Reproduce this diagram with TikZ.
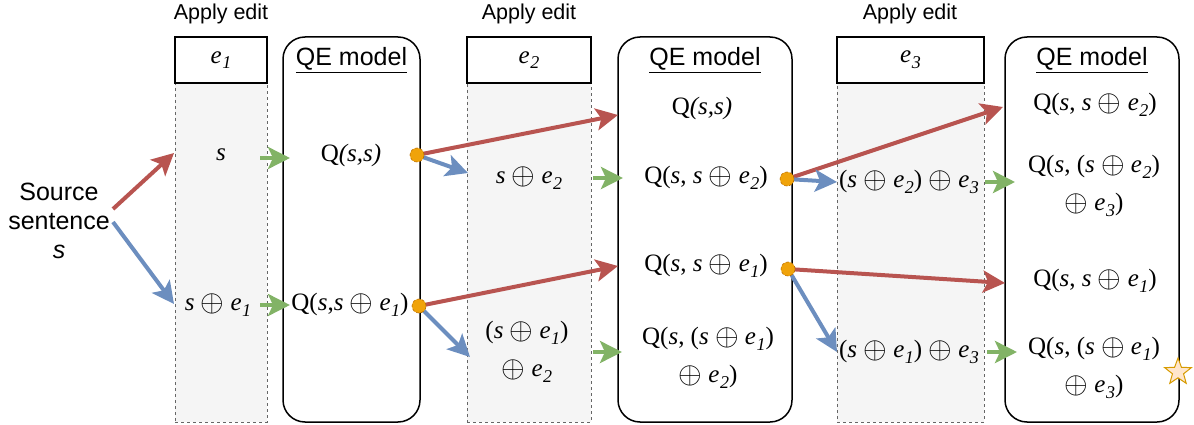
\documentclass[tikz,border=0pt]{standalone}
\usepackage{fontspec}
\setmainfont{Liberation Serif}
\setsansfont{Liberation Sans}
\usetikzlibrary{arrows.meta,shapes.geometric}
\definecolor{cred}{HTML}{B85450}
\definecolor{cblue}{HTML}{6C8EBF}
\definecolor{cgreen}{HTML}{82B366}
\definecolor{corange}{HTML}{F0A30A}
\definecolor{corangeline}{HTML}{BD7000}
\definecolor{colfill}{HTML}{F5F5F5}
\definecolor{colline}{HTML}{666666}
\definecolor{starfill}{HTML}{FFE6CC}
\definecolor{starline}{HTML}{D79B00}
\newcommand{\ee}[1]{\textit{e}\kern0.5pt\raisebox{-0.5ex}{\fontsize{18}{18}\selectfont\textit{#1}}}
\newcommand{\vs}{\textit{s}}
\newcommand{\op}{\raisebox{-0.3pt}{\scalebox{1.22}{$\oplus$}}}
\begin{document}
\begin{tikzpicture}[x=1pt,y=-1pt,
  every node/.style={inner sep=0pt, outer sep=0pt},
  serif/.style={font=\fontsize{25}{38}\selectfont, align=center},
  sanslbl/.style={font=\sffamily\fontsize{21.5}{25}\selectfont},
  srclbl/.style={font=\sffamily\fontsize{25}{29}\selectfont, align=center},
  qetitle/.style={font=\sffamily\fontsize{25}{28}\selectfont},
  colbox/.style={draw=colline, dashed, fill=colfill, line width=0.8pt},
  ebox/.style={draw=black, fill=white, line width=1.5pt},
  qebox/.style={draw=black, rounded corners=22pt, line width=1.5pt},
  arr/.style={line width=4pt, -{Stealth[length=22pt,width=22pt,inset=5pt]}},
  redarr/.style={arr, color=cred},
  bluearr/.style={arr, color=cblue},
  greenarr/.style={arr, color=cgreen},
  dot/.style={circle, minimum size=14pt, fill=corange, draw=corangeline, densely dashed, line width=0.6pt}
]
\useasboundingbox (0,0) rectangle (1194,425);

% columns
\node[colbox, minimum width=92pt, minimum height=339pt] (c1) at (221,252.5) {};
\node[colbox, minimum width=124pt, minimum height=339pt] (c2) at (529,252.5) {};
\node[colbox, minimum width=147pt, minimum height=339pt] (c3) at (910.5,252.5) {};
\node[ebox, minimum width=92pt, minimum height=46pt, serif] (e1) at (221,60) {\ee{1}};
\node[ebox, minimum width=124pt, minimum height=46pt, serif] (e2) at (529,60) {\ee{2}};
\node[ebox, minimum width=147pt, minimum height=46pt, serif] (e3) at (910.5,60) {\ee{3}};

% QE model boxes
\node[qebox, minimum width=137pt, minimum height=385pt] (qe1) at (351.5,229.5) {};
\node[qebox, minimum width=174pt, minimum height=385pt] (qe2) at (705,229.5) {};
\node[qebox, minimum width=174pt, minimum height=385pt] (qe3) at (1092,229.5) {};
\node[qetitle] (qt1) at (351.5,60) {\underline{QE model}};
\node[qetitle] (qt2) at (705,60) {\underline{QE model}};
\node[qetitle] (qt3) at (1092,60) {\underline{QE model}};

% apply edit labels
\node[sanslbl] (ae1) at (221,14) {Apply edit};
\node[sanslbl] (ae2) at (529,14) {Apply edit};
\node[sanslbl] (ae3) at (910,14) {Apply edit};

% source
\node[srclbl] (src) at (59,221) {Source\\sentence\\\textit{s}};

% texts
\node[serif] (t1a) at (221,155) {\vs};
\node[serif] (t1b) at (218,305) {\vs\ \op\ \ee{1}};
\node[serif] (q1a) at (351,155) {Q\textit{(s,s)}};
\node[serif] (q1b) at (350,305) {Q(\vs,\vs\ \op\ \ee{1})};
\node[serif] (t2a) at (529,178) {\vs\ \op\ \ee{2}};
\node[serif] (t2b) at (527,352) {(\vs\ \op\ \ee{1})\\\op\ \ee{2}};
\node[serif] (q2a) at (702,108) {Q\textit{(s,s)}};
\node[serif] (q2b) at (706,178) {Q(\vs, \vs\ \op\ \ee{2})};
\node[serif] (q2c) at (706,266) {Q(\vs, \vs\ \op\ \ee{1})};
\node[serif] (q2d) at (708,358) {Q(\vs, (\vs\ \op\ \ee{1})\\\op\ \ee{2})};
\node[serif] (t3a) at (909,182) {(\vs\ \op\ \ee{2}) \op\ \ee{3}};
\node[serif] (t3b) at (909,352) {(\vs\ \op\ \ee{1}) \op\ \ee{3}};
\node[serif] (q3a) at (1095,105) {Q(\vs, \vs\ \op\ \ee{2})};
\node[serif] (q3b) at (1094,186) {Q(\vs, (\vs\ \op\ \ee{2})\\\op\ \ee{3})};
\node[serif] (q3c) at (1095,281) {Q(\vs, \vs\ \op\ \ee{1})};
\node[serif] (q3d) at (1094,368) {Q(\vs, (\vs\ \op\ \ee{1})\\\op\ \ee{3})};

% coordinates
\coordinate (srcR) at (113,209);
\coordinate (srcB) at (113,222);
\coordinate (tipR0) at (174,153);
\coordinate (tipB0) at (174,304);
\coordinate (g1s) at (260,158); \coordinate (g1e) at (290,158);
\coordinate (g2s) at (260,305); \coordinate (g2e) at (290,305);
\coordinate (g3s) at (593,178); \coordinate (g3e) at (623,178);
\coordinate (g4s) at (593,352); \coordinate (g4e) at (622,352);
\coordinate (g5s) at (985,182); \coordinate (g5e) at (1015,182);
\coordinate (g6s) at (987,352); \coordinate (g6e) at (1017,352);
\coordinate (r1) at (618,115); \coordinate (b1) at (468,173);
\coordinate (r2) at (618,266); \coordinate (b2) at (470,357);
\coordinate (r3) at (1003,107); \coordinate (b3) at (837,182);
\coordinate (r4) at (1005,283); \coordinate (b4) at (837,352);

% dots (positions)
\coordinate (d1) at (417,155);
\coordinate (d2) at (419,306);
\coordinate (d3) at (787,179);
\coordinate (d4) at (788,269);

% arrows
\draw[redarr] (srcR) -- (tipR0);
\draw[bluearr] (srcB) -- (tipB0);
\draw[greenarr] (g1s) -- (g1e);
\draw[greenarr] (g2s) -- (g2e);
\draw[greenarr] (g3s) -- (g3e);
\draw[greenarr] (g4s) -- (g4e);
\draw[greenarr] (g5s) -- (g5e);
\draw[greenarr] (g6s) -- (g6e);
\draw[redarr] (d1) -- (r1);
\draw[bluearr] (d1) -- (b1);
\draw[redarr] (d2) -- (r2);
\draw[bluearr] (d2) -- (b2);
\draw[redarr] (d3) -- (r3);
\draw[bluearr] (d3) -- (b3);
\draw[redarr] (d4) -- (r4);
\draw[bluearr] (d4) -- (b4);

\node[dot] (dot1) at (d1) {};
\node[dot] (dot2) at (d2) {};
\node[dot] (dot3) at (d3) {};
\node[dot] (dot4) at (d4) {};

\node[star, star points=5, star point ratio=2.4, minimum size=28pt, fill=starfill, draw=starline, line width=1pt] (star) at (1178,372) {};
\end{tikzpicture}
\end{document}
